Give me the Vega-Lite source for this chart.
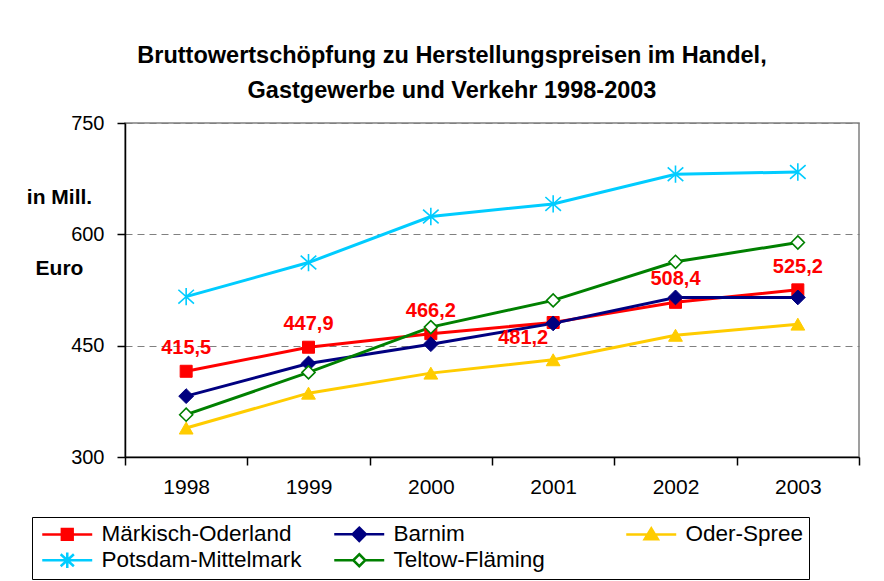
{
  "$schema": "https://vega.github.io/schema/vega-lite/v6.json",
  "width": 734,
  "height": 334,
  "autosize": {"type": "none"},
  "padding": {"left": 125, "top": 123, "right": 25, "bottom": 124},
  "background": "white",
  "config": {
    "locale": {"number": {"decimal": ",", "thousands": ".", "grouping": [3], "currency": ["", " €"]}},
    "view": {"stroke": "#808080", "strokeWidth": 1.5},
    "font": "Liberation Sans",
    "legend": {
      "orient": "none", "legendX": -93, "legendY": 394, "direction": "horizontal", "columns": 3,
      "labelFont": "Liberation Sans", "labelFontSize": 22.5, "labelColor": "black", "labelLimit": 400,
      "symbolSize": 144, "symbolStrokeWidth": 2.5, "strokeColor": "black", "fillColor": "white",
      "padding": 5, "columnPadding": 27, "rowPadding": 0, "labelOffset": 42, "gridAlign": "all"
    }
  },
  "title": {
    "text": ["Bruttowertschöpfung zu Herstellungspreisen im Handel,", "Gastgewerbe und Verkehr 1998-2003"],
    "font": "Liberation Sans", "fontSize": 23.5, "fontWeight": "bold", "color": "black",
    "anchor": "middle", "dx": -40, "offset": 11, "lineHeight": 35
  },
  "data": {"values": [
    {"year": "1998", "series": "Märkisch-Oderland", "value": 415.5},
    {"year": "1999", "series": "Märkisch-Oderland", "value": 447.9},
    {"year": "2000", "series": "Märkisch-Oderland", "value": 466.2},
    {"year": "2001", "series": "Märkisch-Oderland", "value": 481.2},
    {"year": "2002", "series": "Märkisch-Oderland", "value": 508.4},
    {"year": "2003", "series": "Märkisch-Oderland", "value": 525.2},
    {"year": "1998", "series": "Barnim", "value": 382},
    {"year": "1999", "series": "Barnim", "value": 426},
    {"year": "2000", "series": "Barnim", "value": 452},
    {"year": "2001", "series": "Barnim", "value": 480},
    {"year": "2002", "series": "Barnim", "value": 515},
    {"year": "2003", "series": "Barnim", "value": 515},
    {"year": "1998", "series": "Oder-Spree", "value": 339},
    {"year": "1999", "series": "Oder-Spree", "value": 386},
    {"year": "2000", "series": "Oder-Spree", "value": 413},
    {"year": "2001", "series": "Oder-Spree", "value": 431},
    {"year": "2002", "series": "Oder-Spree", "value": 464},
    {"year": "2003", "series": "Oder-Spree", "value": 479},
    {"year": "1998", "series": "Potsdam-Mittelmark", "value": 516},
    {"year": "1999", "series": "Potsdam-Mittelmark", "value": 562},
    {"year": "2000", "series": "Potsdam-Mittelmark", "value": 624},
    {"year": "2001", "series": "Potsdam-Mittelmark", "value": 641},
    {"year": "2002", "series": "Potsdam-Mittelmark", "value": 681},
    {"year": "2003", "series": "Potsdam-Mittelmark", "value": 684},
    {"year": "1998", "series": "Teltow-Fläming", "value": 357},
    {"year": "1999", "series": "Teltow-Fläming", "value": 414},
    {"year": "2000", "series": "Teltow-Fläming", "value": 475},
    {"year": "2001", "series": "Teltow-Fläming", "value": 511},
    {"year": "2002", "series": "Teltow-Fläming", "value": 563},
    {"year": "2003", "series": "Teltow-Fläming", "value": 589}
  ]},
  "encoding": {
    "x": {
      "field": "year", "type": "ordinal",
      "scale": {"type": "band", "paddingInner": 0, "paddingOuter": 0},
      "axis": {
        "title": null, "labelAngle": 0, "labelFont": "Liberation Sans", "labelFontSize": 21,
        "labelColor": "black", "domainColor": "black", "domainWidth": 1.5, "tickColor": "black",
        "tickSize": 8, "tickWidth": 1.5, "tickBand": "extent", "labelPadding": 11, "grid": false
      }
    },
    "y": {
      "field": "value", "type": "quantitative",
      "scale": {"domain": [300, 750], "nice": false, "zero": false},
      "axis": {
        "values": [300, 450, 600, 750], "grid": true, "gridDash": [7, 5], "gridColor": "#808080", "gridWidth": 1.2,
        "domainColor": "black", "domainWidth": 1.5, "tickColor": "black", "tickSize": 8, "tickWidth": 1.5,
        "labelPadding": 13, "labelFont": "Liberation Sans", "labelFontSize": 20, "labelColor": "black",
        "title": ["in Mill.", "Euro"], "titleAngle": 0, "titleX": -66, "titleY": 80, "titleAlign": "center",
        "titleBaseline": "alphabetic", "titleFont": "Liberation Sans", "titleFontSize": 21, "titleFontWeight": "bold",
        "titleColor": "black", "titleLineHeight": 71
      }
    }
  },
  "layer": [
    {
      "mark": {"type": "line", "strokeWidth": 3},
      "encoding": {
        "stroke": {
          "field": "series", "type": "nominal", "title": null,
          "scale": {
            "domain": ["Märkisch-Oderland", "Barnim", "Oder-Spree", "Potsdam-Mittelmark", "Teltow-Fläming"],
            "range": ["#FF0000", "#000080", "#FFCC00", "#00CCFF", "#008000"]
          }
        }
      }
    },
    {
      "transform": [{"filter": "datum.series === 'Märkisch-Oderland'"}],
      "mark": {"type": "point", "shape": "square", "size": 144, "filled": true, "fill": "#FF0000", "stroke": "#FF0000", "strokeWidth": 1, "opacity": 1}
    },
    {
      "transform": [{"filter": "datum.series === 'Barnim'"}],
      "mark": {"type": "point", "shape": "diamond", "size": 220, "filled": true, "fill": "#000080", "stroke": "#000080", "strokeWidth": 1, "opacity": 1}
    },
    {
      "transform": [{"filter": "datum.series === 'Oder-Spree'"}],
      "mark": {"type": "point", "shape": "triangle-up", "size": 190, "filled": true, "fill": "#FFCC00", "stroke": "#FFCC00", "strokeWidth": 1, "opacity": 1}
    },
    {
      "transform": [{"filter": "datum.series === 'Potsdam-Mittelmark'"}],
      "mark": {"type": "point", "shape": "M0,-1V1M-0.9,-0.8L0.9,0.8M-0.9,0.8L0.9,-0.8", "size": 300, "filled": false, "stroke": "#00CCFF", "strokeWidth": 1.6, "opacity": 1}
    },
    {
      "transform": [{"filter": "datum.series === 'Teltow-Fläming'"}],
      "mark": {"type": "point", "shape": "diamond", "size": 170, "filled": true, "fill": "white", "stroke": "#008000", "strokeWidth": 1.6, "opacity": 1}
    },
    {
      "mark": {"type": "point", "filled": true, "strokeWidth": 2.5, "opacity": 0},
      "encoding": {
        "shape": {
          "field": "series", "type": "nominal", "title": null,
          "scale": {
            "domain": ["Märkisch-Oderland", "Barnim", "Oder-Spree", "Potsdam-Mittelmark", "Teltow-Fläming"],
            "range": [
              "M-1,0H7.33M2.27,-0.9H4.07V0.9H2.27Z",
              "M-1,0H7.33M3.17,-1.1L4.27,0L3.17,1.1L2.07,0Z",
              "M-1,0H7.33M3.17,-1L4.27,0.8H2.07Z",
              "M-1,0H7.33M3.17,-1.3V1.3M2.07,-1L4.27,1M2.07,1L4.27,-1",
              "M-1,0H2.17M4.17,0H7.33M3.17,-1L4.17,0L3.17,1L2.17,0Z"
            ]
          },
          "legend": {"symbolOpacity": 1, "encode": {"symbols": {"update": {"opacity": {"value": 1}}}}}
        },
        "fill": {
          "field": "series", "type": "nominal", "title": null,
          "scale": {
            "domain": ["Märkisch-Oderland", "Barnim", "Oder-Spree", "Potsdam-Mittelmark", "Teltow-Fläming"],
            "range": ["#FF0000", "#000080", "#FFCC00", "#00CCFF", "white"]
          },
          "legend": {"symbolOpacity": 1, "encode": {"symbols": {"update": {"opacity": {"value": 1}}}}}
        },
        "stroke": {
          "field": "series", "type": "nominal", "title": null,
          "legend": {"symbolOpacity": 1, "encode": {"symbols": {"update": {"opacity": {"value": 1}}}}}
        }
      }
    },
    {
      "transform": [{"filter": "datum.series === 'Märkisch-Oderland' && datum.year !== '2001'"}],
      "mark": {"type": "text", "font": "Liberation Sans", "fontSize": 20, "fontWeight": "bold", "color": "#FF0000", "dy": -23},
      "encoding": {"text": {"field": "value", "type": "quantitative", "format": ".1f"}}
    },
    {
      "transform": [{"filter": "datum.series === 'Märkisch-Oderland' && datum.year === '2001'"}],
      "mark": {"type": "text", "font": "Liberation Sans", "fontSize": 20, "fontWeight": "bold", "color": "#FF0000", "dy": 15, "dx": -30},
      "encoding": {"text": {"field": "value", "type": "quantitative", "format": ".1f"}}
    }
  ]
}
